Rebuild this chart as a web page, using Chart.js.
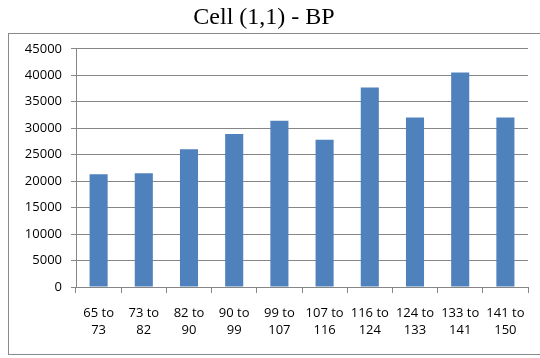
<!DOCTYPE html>
<html>
<head>
<meta charset="utf-8">
<script src="https://cdn.jsdelivr.net/npm/chart.js@4/dist/chart.umd.min.js"></script>
<style>
  html, body { margin: 0; padding: 0; background: #fff; }
  #wrap { width: 540px; height: 358px; position: relative; }
</style>
</head>
<body>
<div id="wrap"><canvas id="chart" width="540" height="358"></canvas></div>
<script>
const categories = [
  ['65 to', '73'], ['73 to', '82'], ['82 to', '90'], ['90 to', '99'], ['99 to', '107'],
  ['107 to', '116'], ['116 to', '124'], ['124 to', '133'], ['133 to', '141'], ['141 to', '150']
];
const bpValues = [21300, 21500, 26000, 28900, 31400, 27800, 37700, 32000, 40500, 32000];
const yTicks = [0, 5000, 10000, 15000, 20000, 25000, 30000, 35000, 40000, 45000];

const gridGrey = '#868686';

// outer frame like the Excel chart box (title sits above it)
const framePlugin = {
  id: 'frame',
  beforeDraw(chart) {
    const ctx = chart.ctx;
    ctx.save();
    ctx.strokeStyle = '#8a8a8a';
    ctx.lineWidth = 1;
    ctx.strokeRect(8.5, 33.5, 560, 321);
    ctx.restore();
  }
};

new Chart(document.getElementById('chart'), {
  type: 'bar',
  data: {
    labels: categories,
    datasets: [{
      label: 'BP',
      data: bpValues,
      backgroundColor: '#4F81BD',
      borderWidth: 0,
      barPercentage: 0.4,
      categoryPercentage: 1.0
    }]
  },
  options: {
    responsive: false,
    animation: false,
    layout: { padding: { left: 0, right: 12, top: 0, bottom: 0 } },
    plugins: {
      legend: { display: false },
      tooltip: { enabled: false },
      title: {
        display: true,
        text: 'Cell (1,1) - BP',
        color: '#000',
        font: { family: '"Liberation Serif", "Times New Roman", serif', size: 24, weight: 'normal', lineHeight: 1.2 },
        padding: { top: 3, bottom: 17 }
      }
    },
    scales: {
      x: {
        offset: true,
        grid: {
          offset: true,
          drawOnChartArea: false,
          drawTicks: true,
          tickLength: 6,
          color: gridGrey
        },
        border: { color: gridGrey },
        ticks: {
          color: '#000',
          padding: 11,
          maxRotation: 0,
          autoSkip: false,
          font: { family: '"Open Sans", sans-serif', size: 13, lineHeight: 1.36 }
        },
        afterFit(scale) { scale.height = 71; }
      },
      y: {
        min: 0,
        max: 45000,
        afterBuildTicks(scale) { scale.ticks = yTicks.map(v => ({ value: v })); },
        grid: { color: gridGrey, tickLength: 5 },
        border: { color: gridGrey },
        ticks: {
          color: '#000',
          padding: 9,
          font: { family: '"Open Sans", sans-serif', size: 13 },
          callback: v => String(v)
        },
        afterFit(scale) { scale.width = 76; }
      }
    }
  },
  plugins: [framePlugin]
});
</script>
</body>
</html>
